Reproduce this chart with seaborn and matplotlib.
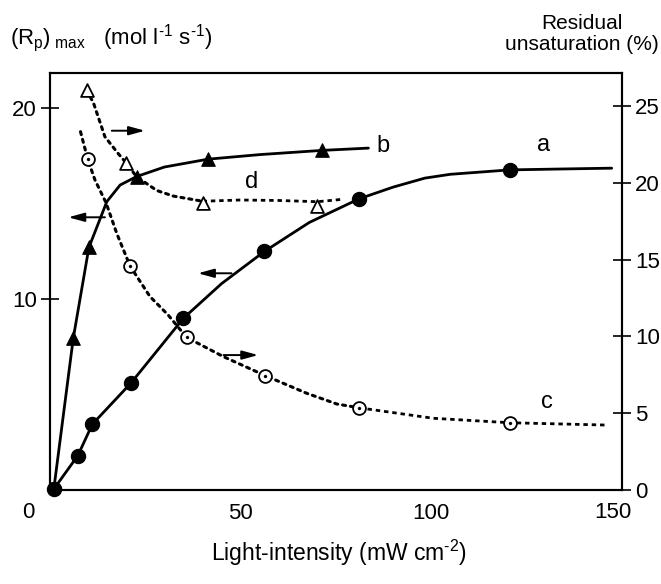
import matplotlib
matplotlib.use("Agg")
import matplotlib.pyplot as plt
import seaborn as sns

# ---- data ----
# curve a: (Rp)max, filled circles, left axis
a_x = [1.0, 7.3, 11.1, 21.2, 35.0, 56.2, 81.1, 120.5]
a_y = [0.05, 1.8, 3.44, 5.59, 8.99, 12.48, 15.24, 16.75]
a_line_x = [1.0, 7.3, 11.1, 21.2, 35.0, 45.0, 56.2, 68.0, 81.1, 90.0, 98.3, 105.0, 120.5, 135.0, 147.3]
a_line_y = [0.05, 1.8, 3.44, 5.59, 8.99, 10.8, 12.48, 14.0, 15.24, 15.85, 16.32, 16.52, 16.75, 16.8, 16.84]
# curve b: (Rp)max, filled triangles, left axis
b_x = [6.1, 10.2, 22.7, 41.4, 71.3]
b_y = [7.94, 12.69, 16.40, 17.31, 17.77]
b_line_x = [1.0, 6.1, 10.2, 14.9, 18.4, 22.7, 30.0, 41.4, 55.0, 71.3, 83.5]
b_line_y = [0.05, 7.94, 12.69, 15.09, 15.96, 16.40, 16.9, 17.31, 17.55, 17.77, 17.89]
# curve c: residual unsaturation, open circles, right axis
c_x = [9.9, 21.0, 35.8, 56.5, 81.1, 120.5]
c_y = [21.53, 14.58, 9.94, 7.44, 5.32, 4.38]
c_line_x = [8.0, 9.9, 11.8, 14.7, 17.5, 21.0, 26.2, 31.0, 35.8, 45.5, 56.5, 67.3, 75.2, 81.1, 100.5, 120.5, 145.6]
c_line_y = [23.33, 21.53, 20.18, 18.70, 16.71, 14.58, 12.6, 11.39, 9.94, 8.68, 7.44, 6.3, 5.6, 5.35, 4.67, 4.38, 4.23]
# curve d: residual unsaturation, open triangles, right axis
d_x = [9.6, 19.9, 40.0, 70.1]
d_y = [26.04, 21.31, 18.66, 18.49]
d_line_x = [9.6, 11.4, 14.4, 17.9, 19.9, 22.7, 28.0, 32.3, 40.0, 49.8, 60.0, 70.1, 76.9]
d_line_y = [26.04, 25.2, 23.0, 21.9, 21.31, 20.4, 19.5, 19.14, 18.8, 18.88, 18.85, 18.77, 18.93]

x_ticks = [0, 50, 100, 150]
left_ticks = [10, 20]
right_ticks = [0, 5, 10, 15, 20, 25]

sns.set_theme(style="white")
plt.rcParams["font.family"] = ["Liberation Sans", "DejaVu Sans"]
plt.rcParams["mathtext.fontset"] = "custom"
plt.rcParams["mathtext.rm"] = "Liberation Sans"
plt.rcParams["mathtext.it"] = "Liberation Sans"
plt.rcParams["axes.unicode_minus"] = False

fig = plt.figure(figsize=(6.61, 5.84), dpi=100)
ax = fig.add_axes([50 / 661, 1 - 490 / 584, 572 / 661, 417 / 584])
ax2 = ax.twinx()

K = "black"
dot = dict(linestyle=(0, (1, 1.6)), dash_capstyle="round")
dash = dict(linestyle=(0, (1.6, 1.4)))

# solid lines a, b
sns.lineplot(x=a_line_x, y=a_line_y, ax=ax, color=K, lw=2.0, sort=False, estimator=None)
sns.lineplot(x=b_line_x, y=b_line_y, ax=ax, color=K, lw=2.0, sort=False, estimator=None)
sns.scatterplot(x=a_x, y=a_y, ax=ax, color=K, marker="o", s=105, edgecolor=K, zorder=5)
sns.scatterplot(x=[a_line_x[0]], y=[a_line_y[0]], ax=ax, color=K, marker="o", s=105,
                edgecolor=K, zorder=6, clip_on=False)
sns.scatterplot(x=b_x, y=b_y, ax=ax, color=K, marker="^", s=95, edgecolor=K, zorder=5)

# dotted lines c, d on right axis
ic = c_line_x.index(81.1)
sns.lineplot(x=c_line_x[:ic + 1], y=c_line_y[:ic + 1], ax=ax2, color=K, lw=2.2, sort=False,
             estimator=None, **dot)
sns.lineplot(x=c_line_x[ic:], y=c_line_y[ic:], ax=ax2, color=K, lw=2.0, sort=False,
             estimator=None, **dash)
idd = d_line_x.index(40.0)
sns.lineplot(x=d_line_x[:idd + 1], y=d_line_y[:idd + 1], ax=ax2, color=K, lw=2.2, sort=False,
             estimator=None, **dot)
sns.lineplot(x=d_line_x[idd:], y=d_line_y[idd:], ax=ax2, color=K, lw=2.0, sort=False,
             estimator=None, **dash)
sns.scatterplot(x=c_x, y=c_y, ax=ax2, marker="o", s=85, facecolor="white", edgecolor=K,
                linewidth=1.3, zorder=5)
sns.scatterplot(x=c_x, y=c_y, ax=ax2, marker="o", s=5, color=K, edgecolor=K, zorder=6)
sns.scatterplot(x=d_x, y=d_y, ax=ax2, marker="^", s=85, facecolor="white", edgecolor=K,
                linewidth=1.3, zorder=5)

# axes limits and ticks
ax.set_xlim(0, 150)
ax.set_ylim(0, 21.82)
ax2.set_ylim(0, 27.15)
ax.set_xticks(x_ticks)
ax.set_xticklabels(["", str(x_ticks[1]), str(x_ticks[2]), ""])
ax.set_yticks(left_ticks)
ax2.set_yticks(right_ticks)
for a in (ax, ax2):
    a.tick_params(direction="inout", length=13, width=1.2, labelsize=16, pad=3, color=K,
                  labelcolor=K)
    a.set_xlabel("")
    a.set_ylabel("")
    for s in a.spines.values():
        s.set_color(K)
        s.set_linewidth(1.5)
ax2.tick_params(axis="y", left=False, right=True)
ax.tick_params(axis="y", left=True, right=False)
# end labels of the x axis sit slightly left of their ticks in the reference
for val, dx in ((x_ticks[0], -22), (x_ticks[-1], -9)):
    ax.annotate(str(val), xy=(val, 0), xycoords=("data", "axes fraction"), xytext=(dx, -12),
                textcoords="offset pixels", ha="center", va="top", fontsize=16, color=K)

# arrows pointing to the relevant axis
arrows = [((16.2, 18.8), (24.9, 18.8)),
          ((14.4, 14.27), (4.8, 14.27)),
          ((47.6, 11.34), (38.8, 11.34)),
          ((45.5, 7.06), (54.6, 7.06))]
for (x0, y0), (x1, y1) in arrows:
    ax.annotate("", xy=(x1, y1), xytext=(x0, y0),
                arrowprops=dict(arrowstyle="-|>,head_length=0.8,head_width=0.22", color=K,
                                lw=1.4, shrinkA=0, shrinkB=0))

# curve letters
for t, (x, y) in {"a": (129.3, 18.05), "b": (87.4, 18.0), "c": (130.3, 4.62),
                  "d": (52.9, 16.13)}.items():
    ax.text(x, y, t, fontsize=17, ha="center", va="center", color=K)

# axis titles
fig.text(10 / 661, 1 - 38 / 584,
         r"$\mathrm{(R_p)_{\ max}\ \ \ (mol\ l^{\text{-1}}\ s^{\text{-1}})}$",
         fontsize=16, ha="left", va="center", color=K)
fig.text(582 / 661, 1 - 34 / 584, "Residual\nunsaturation (%)", fontsize=15,
         ha="center", va="center", multialignment="center", linespacing=1.1, color=K)
fig.text(339 / 661, 1 - 553 / 584, r"Light-intensity (mW cm$^{\text{-2}}$)",
         fontsize=16.5, ha="center", va="center", color=K)

fig.savefig("out.png", dpi=100, facecolor="white")
